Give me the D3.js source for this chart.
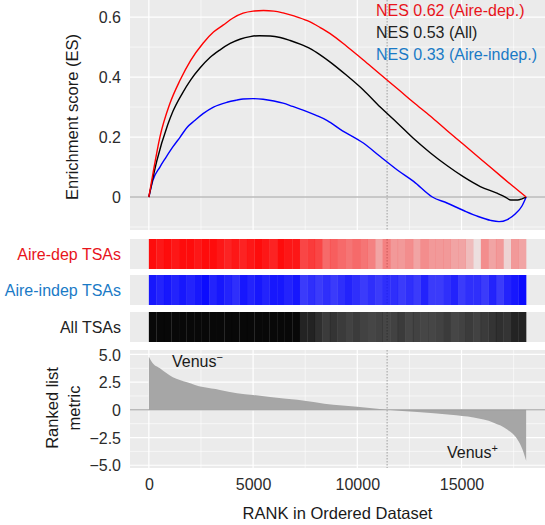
<!DOCTYPE html>
<html><head><meta charset="utf-8">
<script src="https://cdn.jsdelivr.net/npm/d3@7/dist/d3.min.js"></script>
<style>
body{margin:0;background:#fff}
svg{display:block}
text{font-family:"Liberation Sans",Arial,Helvetica,sans-serif}
</style>
</head><body>
<svg id="chart" width="545" height="525"></svg>
<script>
// ---------------- DATA ----------------
const N = 18100;                 // genes in ranked list
const leadingEdgeRank = 11430;   // dotted line (metric crosses zero)

// running enrichment score, Aire-dependent TSAs (red)
const depRanks  = [0,200,530,1000,1500,2000,2600,3100,3560,4040,4520,5000,5500,6000,6440,7000,7600,8200,8700,9500,10290,11000,12000,12690,13500,14300,15100,16000,17000,17500,18100];
const depES     = [0,0.08,0.2,0.31,0.39,0.455,0.513,0.55,0.573,0.597,0.613,0.62,0.622,0.62,0.614,0.603,0.588,0.566,0.545,0.502,0.457,0.415,0.357,0.316,0.27,0.222,0.175,0.122,0.063,0.034,0];

// running enrichment score, all TSAs (black)
const allRanks  = [0,380,900,1150,1600,2000,2450,2930,3400,3900,4400,4860,5300,5820,6300,6780,7260,7740,8200,8700,9500,10290,11100,11920,12700,13510,14300,15100,15900,16730,17100,17360,17700,17900,18100];
const allES     = [0,0.12,0.24,0.285,0.345,0.39,0.43,0.465,0.49,0.512,0.527,0.535,0.538,0.537,0.532,0.522,0.51,0.495,0.475,0.45,0.405,0.357,0.3,0.247,0.195,0.147,0.105,0.067,0.035,0.012,0,-0.01,-0.01,-0.006,0];

// running enrichment score, Aire-independent TSAs (blue)
const indRanks  = [0,190,530,800,1150,1500,1830,2200,2600,3100,3750,4200,4520,5000,5480,6000,6440,6900,7400,8000,8560,9200,10290,11100,11920,12700,13600,14300,15100,15800,16400,16800,17200,17600,17900,18100];
const indES     = [0,0.055,0.1,0.13,0.167,0.2,0.232,0.255,0.278,0.3,0.316,0.323,0.327,0.328,0.326,0.32,0.313,0.302,0.29,0.273,0.255,0.225,0.18,0.135,0.09,0.052,0,-0.02,-0.045,-0.065,-0.078,-0.082,-0.075,-0.055,-0.03,0];

// ranked list metric
const metricRanks  = [0,150,530,1150,1830,2600,3410,4230,5000,5820,7120,8850,10000,11430,12880,14470,15580,16540,17210,17690,17930,18100];
const metricValues = [4.8,4.3,3.75,2.95,2.5,2.05,1.8,1.5,1.34,1.16,0.9,0.45,0.27,0,-0.2,-0.45,-0.7,-1.16,-1.8,-2.7,-3.6,-4.6];

// hit density of each gene set in 50 equal rank bins (barcode rows)
const depDensity = [0.95,0.9,0.95,0.9,0.95,0.95,0.9,0.95,0.95,0.9,0.85,0.9,0.85,0.9,0.95,0.9,0.85,0.95,0.9,0.9,
                    0.7,0.75,0.7,0.55,0.6,0.55,0.5,0.55,0.5,0.45,0.3,0.45,0.35,0.35,0.4,0.3,0.4,0.35,0.35,0.35,
                    0.3,0.3,0.2,0.05,0.4,0.3,0.35,0.1,0.35,0.3];
const indDensity = [0.9,0.85,0.9,0.85,0.9,0.85,0.9,0.95,0.85,0.9,0.85,0.8,0.9,0.85,0.9,0.85,0.9,0.9,0.85,0.9,
                    0.75,0.8,0.75,0.8,0.75,0.8,0.85,0.8,0.75,0.8,0.75,0.8,0.8,0.75,0.8,0.75,0.85,0.75,0.75,0.8,
                    0.85,0.75,0.8,0.8,0.75,0.85,0.75,0.85,0.9,0.95];
const allDensity = [0.97,0.97,0.97,0.97,0.97,0.97,0.97,0.97,0.97,0.97,0.97,0.97,0.97,0.97,0.97,0.97,0.97,0.97,0.97,0.97,
                    0.85,0.85,0.8,0.75,0.78,0.75,0.72,0.75,0.72,0.7,0.72,0.7,0.72,0.75,0.7,0.72,0.7,0.7,0.72,0.75,
                    0.7,0.72,0.75,0.72,0.75,0.78,0.8,0.78,0.85,0.85];

const rowNames   = ["Aire-dep TSAs","Aire-indep TSAs","All TSAs"];
const legendText = ["NES 0.62 (Aire-dep.)","NES 0.53 (All)","NES 0.33 (Aire-indep.)"];
const xTicks     = [0,5000,10000,15000];
const xMinor     = [2500,7500,12500,17500];
const esTicks    = [0,0.2,0.4,0.6];
const esMinor    = [-0.1,0.1,0.3,0.5];
const mTicks     = [-5,-2.5,0,2.5,5];
const mMinor     = [-3.75,-1.25,1.25,3.75];

// ---------------- LAYOUT ----------------
const RED = "#ff0000", BLUE = "#0000ff", BLACK = "#000000";
const RED_T = "#e8141c", BLUE_T = "#1a7ac6", DARK_T = "#222222";
const PANEL = "#ebebeb";
const svg = d3.select("#chart");
const L = 130, R = 545;

const x = d3.scaleLinear().domain([-0.05*N, 1.05*N]).range([L, R]);
const yES = d3.scaleLinear().domain([-0.11, 0.657]).range([230, 0]);
const yM  = d3.scaleLinear().domain([-5.25, 5.4]).range([468, 350]);

function grid(g, yScale, yMaj, yMin, top, bottom) {
  g.append("rect").attr("x", L).attr("y", top).attr("width", R - L).attr("height", bottom - top).attr("fill", PANEL);
  g.selectAll(".hmin").data(yMin).enter().append("line")
    .attr("x1", L).attr("x2", R).attr("y1", d => yScale(d)).attr("y2", d => yScale(d))
    .attr("stroke", "#fff").attr("stroke-width", 0.6);
  g.selectAll(".vmin").data(xMinor).enter().append("line")
    .attr("x1", d => x(d)).attr("x2", d => x(d)).attr("y1", top).attr("y2", bottom)
    .attr("stroke", "#fff").attr("stroke-width", 0.6);
  g.selectAll(".hmaj").data(yMaj).enter().append("line")
    .attr("x1", L).attr("x2", R).attr("y1", d => yScale(d)).attr("y2", d => yScale(d))
    .attr("stroke", "#fff").attr("stroke-width", 1.2);
  g.selectAll(".vmaj").data(xTicks).enter().append("line")
    .attr("x1", d => x(d)).attr("x2", d => x(d)).attr("y1", top).attr("y2", bottom)
    .attr("stroke", "#fff").attr("stroke-width", 1.2);
  g.append("line").attr("x1", x(leadingEdgeRank)).attr("x2", x(leadingEdgeRank))
    .attr("y1", top).attr("y2", bottom)
    .attr("stroke", "#8c8c8c").attr("stroke-width", 0.8).attr("stroke-dasharray", "1.5,1.5");
}

// ---- top panel: running ES ----
const gTop = svg.append("g");
grid(gTop, yES, esTicks, esMinor, 0, 230);
gTop.append("line").attr("x1", L).attr("x2", R).attr("y1", yES(0)).attr("y2", yES(0))
  .attr("stroke", "#9a9a9a").attr("stroke-width", 1);

const esLine = d3.line().x(d => x(d[0])).y(d => yES(d[1])).curve(d3.curveMonotoneX);
const series = [
  {r: indRanks, v: indES, c: BLUE},
  {r: allRanks, v: allES, c: BLACK},
  {r: depRanks, v: depES, c: RED}
];
series.forEach(s => {
  gTop.append("path").datum(s.r.map((r, i) => [r, s.v[i]]))
    .attr("d", esLine).attr("fill", "none").attr("stroke", s.c).attr("stroke-width", 1.4)
    .attr("stroke-linejoin", "round");
});

gTop.append("g").attr("transform", `translate(${L},0)`)
  .call(d3.axisLeft(yES).tickValues(esTicks).tickSize(0).tickPadding(9).tickFormat(d => d === 0 ? "0" : d3.format(".1f")(d)))
  .call(g => g.select(".domain").remove())
  .call(g => g.selectAll("text").attr("font-size", 16).attr("font-family", null).attr("fill", "#2b2b2b").attr("dy", "0.36em"));

const legColors = [RED_T, DARK_T, BLUE_T];
gTop.selectAll(".leg").data(legendText).enter().append("text")
  .attr("x", 376).attr("y", (d, i) => 16 + i * 22)
  .attr("font-size", 16).attr("fill", (d, i) => legColors[i]).text(d => d);

svg.append("text").attr("transform", "translate(78,117) rotate(-90)")
  .attr("text-anchor", "middle").attr("font-size", 16.5).attr("fill", "#1a1a1a")
  .text("Enrichment score (ES)");

// ---- barcode rows ----
const rows = [
  {top: 239, dens: depDensity, c: RED, tc: RED_T},
  {top: 275, dens: indDensity, c: BLUE, tc: BLUE_T},
  {top: 312, dens: allDensity, c: BLACK, tc: DARK_T}
];
const rowH = 30;
const binW = N / depDensity.length;
rows.forEach((row, ri) => {
  const g = svg.append("g");
  g.append("rect").attr("x", L).attr("y", row.top).attr("width", R - L).attr("height", rowH).attr("fill", PANEL);
  g.append("line").attr("x1", x(leadingEdgeRank)).attr("x2", x(leadingEdgeRank))
    .attr("y1", row.top).attr("y2", row.top + rowH)
    .attr("stroke", "#8c8c8c").attr("stroke-width", 0.8).attr("stroke-dasharray", "1.5,1.5");
  g.selectAll("rect.bin").data(row.dens).enter().append("rect").attr("class", "bin")
    .attr("x", (d, i) => x(i * binW))
    .attr("width", (d, i) => x((i + 1) * binW) - x(i * binW) + 0.2)
    .attr("y", row.top).attr("height", rowH)
    .attr("fill", row.c).attr("fill-opacity", d => d);
  g.append("text").attr("x", 121).attr("y", row.top + rowH / 2).attr("dy", "0.36em")
    .attr("text-anchor", "end").attr("font-size", 16).attr("fill", row.tc).text(rowNames[ri]);
});

// ---- bottom panel: ranked list metric ----
const gBot = svg.append("g");
grid(gBot, yM, mTicks, mMinor, 350, 468);
const area = d3.area().x(d => x(d[0])).y0(yM(0)).y1(d => yM(d[1])).curve(d3.curveMonotoneX);
gBot.append("path").datum(metricRanks.map((r, i) => [r, metricValues[i]]))
  .attr("d", area).attr("fill", "#a6a6a6");
gBot.append("line").attr("x1", L).attr("x2", R).attr("y1", yM(0)).attr("y2", yM(0))
  .attr("stroke", "#999").attr("stroke-width", 1);

gBot.append("g").attr("transform", `translate(${L},0)`)
  .call(d3.axisLeft(yM).tickValues(mTicks).tickSize(0).tickPadding(9).tickFormat(d => d === 0 ? "0" : d3.format(".1f")(d)))
  .call(g => g.select(".domain").remove())
  .call(g => g.selectAll("text").attr("font-size", 16).attr("font-family", null).attr("fill", "#2b2b2b").attr("dy", "0.36em"));

gBot.append("g").attr("transform", `translate(0,468)`)
  .call(d3.axisBottom(x).tickValues(xTicks).tickSize(0).tickPadding(11).tickFormat(d3.format("d")))
  .call(g => g.select(".domain").remove())
  .call(g => g.selectAll("text").attr("font-size", 16).attr("font-family", null).attr("fill", "#2b2b2b"));

const v1 = gBot.append("text").attr("x", 172).attr("y", 367).attr("font-size", 16).attr("fill", "#1a1a1a");
v1.append("tspan").text("Venus");
v1.append("tspan").attr("dy", -6).attr("font-size", 11).text("\u2212");
const v2 = gBot.append("text").attr("x", 447).attr("y", 458).attr("font-size", 16).attr("fill", "#1a1a1a");
v2.append("tspan").text("Venus");
v2.append("tspan").attr("dy", -6).attr("font-size", 11).text("+");

const yt = svg.append("text").attr("transform", "translate(0,408) rotate(-90)")
  .attr("text-anchor", "middle").attr("font-size", 16.5).attr("fill", "#1a1a1a");
yt.append("tspan").attr("x", 0).attr("y", 58).text("Ranked list");
yt.append("tspan").attr("x", 0).attr("y", 80).text("metric");

svg.append("text").attr("x", (L + R) / 2).attr("y", 519).attr("text-anchor", "middle")
  .attr("font-size", 16.5).attr("fill", "#1a1a1a").text("RANK in Ordered Dataset");
</script>
</body></html>
